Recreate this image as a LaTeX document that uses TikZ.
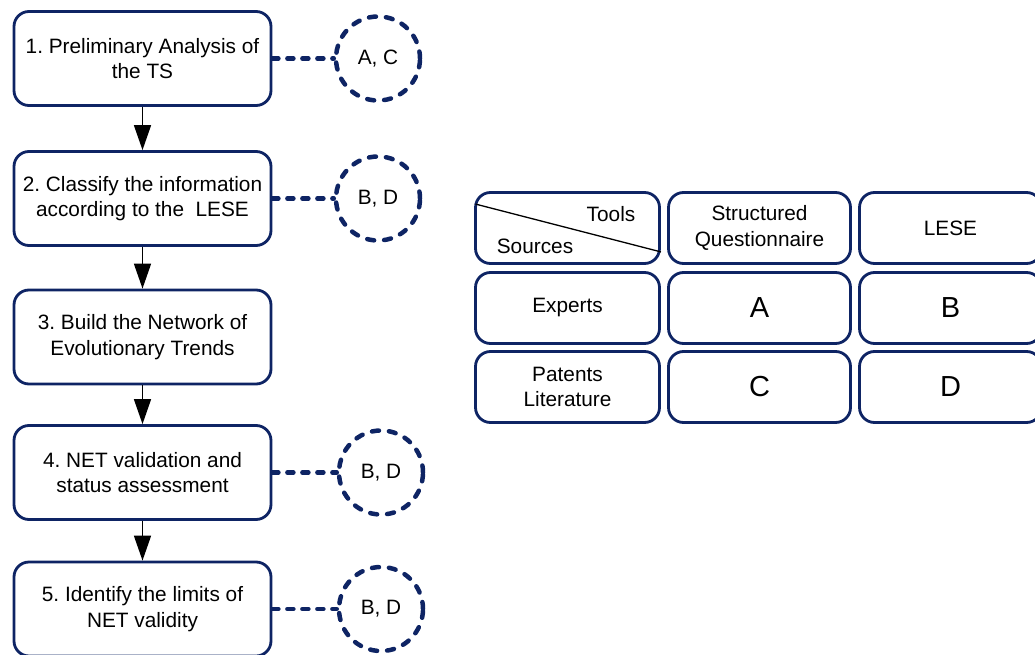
\documentclass[tikz,border=0pt]{standalone}
\usepackage{fontspec}
\setmainfont{Liberation Sans}
\usetikzlibrary{arrows.meta,calc}
\definecolor{navy}{RGB}{14,36,100}
\frenchspacing
\begin{document}
\begin{tikzpicture}[x=1pt,y=-1pt,
  txt/.style={font=\fontsize{20.8}{25.5}\selectfont, text=black},
  stepbox/.style={txt, draw=navy, line width=2.8pt, rounded corners=15pt,
     minimum width=257, minimum height=94, align=center, inner sep=0pt},
  ring/.style={txt, circle, draw=navy, line width=4.5pt, dash pattern=on 7pt off 10pt,
     line cap=round, minimum size=84, inner sep=0pt},
  dashlink/.style={draw=navy, line width=4.5pt, dash pattern=on 6pt off 9pt, line cap=round},
  flow/.style={draw=black, line width=1.6pt, -{Triangle[width=17pt,length=25pt]}},
  cell/.style={txt, draw=navy, line width=2.8pt, rounded corners=15pt,
     minimum height=71, inner sep=0pt, align=center},
  big/.style={font=\fontsize{29}{32}\selectfont}
]
\useasboundingbox (0,0) rectangle (1035,655);
\clip (0,0) rectangle (1035,655);

% step boxes
\node[stepbox] (b1) at (142.5,58.5) {1. Preliminary Analysis of\\the TS};
\node[stepbox] (b2) at (142.5,198.5) {2. Classify the information\\according to the \ LESE};
\node[stepbox] (b3) at (142.5,337) {3. Build the Network of\\Evolutionary Trends};
\node[stepbox] (b4) at (142.5,472.5) {4. NET validation and\\status assessment};
\node[stepbox] (b5) at (142.5,609) {5. Identify the limits of\\NET validity};

\draw[flow] (b1.south) -- (b2.north);
\draw[flow] (b2.south) -- (b3.north);
\draw[flow] (b3.south) -- (b4.north);
\draw[flow] (b4.south) -- (b5.north);

% circles
\node[ring] (c1) at (378,58.5) {A, C};
\node[ring] (c2) at (378,198.5) {B, D};
\node[ring] (c4) at (381,472.5) {B, D};
\node[ring] (c5) at (381,609) {B, D};

\draw[dashlink] (b1.east) -- (c1.west);
\draw[dashlink] (b2.east) -- (c2.west);
\draw[dashlink] (b4.east) -- (c4.west);
\draw[dashlink] (b5.east) -- (c5.west);

% table
\node[cell, minimum width=184] (h0) at (567.5,228) {};
\node[cell, minimum width=182] (h1) at (759.5,228) {Structured\\Questionnaire};
\node[cell, minimum width=182] (h2) at (950.5,228) {LESE};
\node[cell, minimum width=184] (r1) at (567.5,308) {Experts};
\node[cell, minimum width=182, big] (a) at (759.5,308) {A};
\node[cell, minimum width=182, big] (b) at (950.5,308) {B};
\node[cell, minimum width=184] (r2) at (567.5,387) {Patents\\Literature};
\node[cell, minimum width=182, big] (c) at (759.5,387) {C};
\node[cell, minimum width=182, big] (d) at (950.5,387) {D};

\coordinate (dgA) at ($(h0.north west)+(1.5,13)$);
\coordinate (dgB) at ($(h0.south east)+(0,-13)$);
\draw[line width=1.3pt, black] (dgA) -- (dgB);
\node[txt] (tools) at (611,214) {Tools};
\node[txt] (sources) at (535,246) {Sources};
\end{tikzpicture}
\end{document}
